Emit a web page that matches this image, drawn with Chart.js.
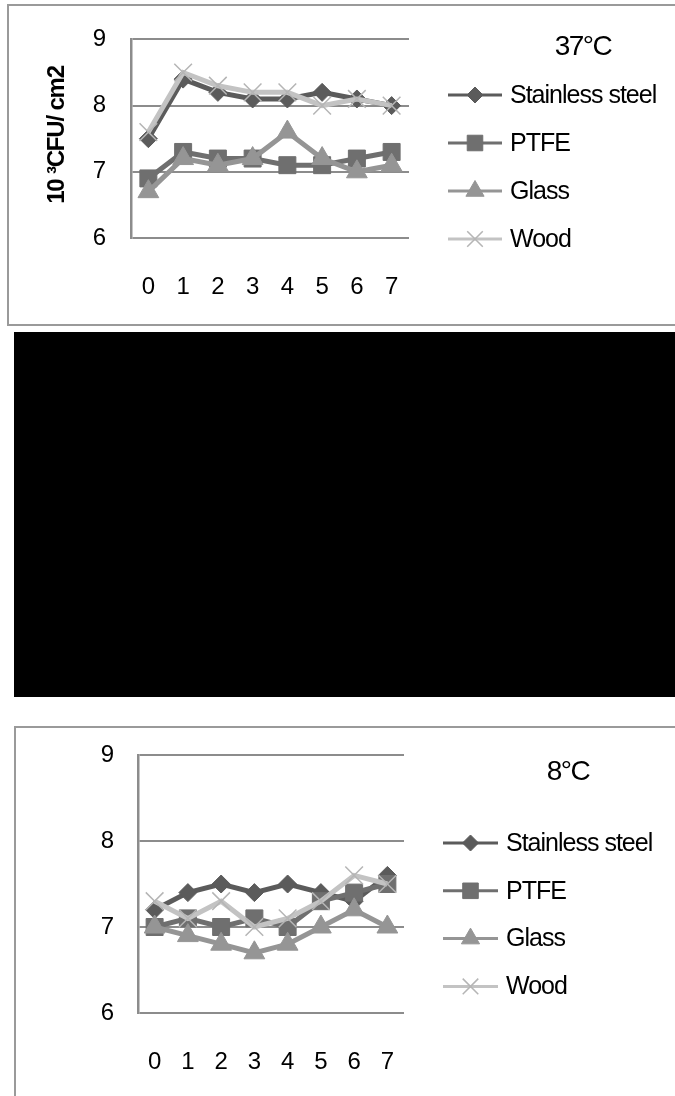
<!DOCTYPE html>
<html><head><meta charset="utf-8">
<script src="https://cdn.jsdelivr.net/npm/chart.js@4.4.0/dist/chart.umd.min.js"></script>
<style>
html,body{margin:0;padding:0;background:#fff;width:675px;height:1096px;overflow:hidden;}
body{position:relative;}
.box{position:absolute;border:2px solid #9a9a9a;box-sizing:border-box;}
#b1{left:7px;top:4px;width:720px;height:322px;}
#blk{position:absolute;left:14px;top:332px;width:661px;height:365px;background:#000;}
#b2{left:14px;top:726px;width:720px;height:420px;}
.cw{position:absolute;left:0;width:675px;}
#w1{top:0;height:330px;}
#w2{top:700px;height:396px;}
canvas{display:block;}
</style></head>
<body>
<div class="box" id="b1"></div>
<div id="blk"></div>
<div class="box" id="b2"></div>
<div class="cw" id="w1"><canvas id="c1" width="675" height="330"></canvas></div>
<div class="cw" id="w2"><canvas id="c2" width="675" height="396"></canvas></div>
<script>
// ---- data ----
const days = ['0','1','2','3','4','5','6','7'];
const seriesNames = ['Stainless steel','PTFE','Glass','Wood'];
const yTicks = [6,7,8,9];
// 37°C
const steel37 = [7.5,8.4,8.2,8.1,8.1,8.2,8.1,8.0];
const ptfe37  = [6.9,7.3,7.2,7.2,7.1,7.1,7.2,7.3];
const glass37 = [6.7,7.2,7.1,7.2,7.6,7.2,7.0,7.1];
const wood37  = [7.6,8.5,8.3,8.2,8.2,8.0,8.1,8.0];
// 8°C
const steel8 = [7.2,7.4,7.5,7.4,7.5,7.4,7.3,7.6];
const ptfe8  = [7.0,7.1,7.0,7.1,7.0,7.3,7.4,7.5];
const glass8 = [7.0,6.9,6.8,6.7,6.8,7.0,7.2,7.0];
const wood8  = [7.3,7.1,7.3,7.0,7.1,7.3,7.6,7.5];

const FONT = '"Liberation Sans", Arial, sans-serif';
const styles = [
  {line:'#5b5b5b', fill:'#5b5b5b', border:'#5b5b5b', ps:'rectRot', r:9, lr:8, bw:1, order:4},
  {line:'#6f6f6f', fill:'#6f6f6f', border:'#6f6f6f', ps:'rect', r:12, lr:11, bw:1, order:3},
  {line:'#959595', fill:'#959595', border:'#959595', ps:'triangle', r:12, lr:10.5, bw:1, order:2},
  {line:'#c3c3c3', fill:'#b5b5b5', border:'#b5b5b5', ps:'crossRot', r:12.5, lr:11, bw:1.5, order:1}
];

function makeDatasets(arrs){
  return arrs.map((d,i)=>({
    label: seriesNames[i],
    data: d,
    borderColor: styles[i].line,
    backgroundColor: styles[i].fill,
    borderWidth: 5,
    pointStyle: styles[i].ps,
    pointRadius: styles[i].r,
    pointBackgroundColor: styles[i].fill,
    pointBorderColor: styles[i].border,
    pointBorderWidth: styles[i].bw,
    legendRadius: styles[i].lr,
    tension: 0,
    order: styles[i].order
  }));
}

const sideLegend = {
  id:'sideLegend',
  afterDraw(chart, args, o){
    const ctx = chart.ctx;
    ctx.save();
    // y axis title
    ctx.save();
    ctx.translate(o.ytX, o.ytY);
    ctx.rotate(-Math.PI/2);
    ctx.fillStyle = '#000';
    ctx.font = 'bold 24px ' + FONT;
    ctx.letterSpacing = '-1.2px';
    ctx.textAlign = 'center'; ctx.textBaseline = 'middle';
    ctx.fillText(o.ytitle, 0, 0);
    ctx.restore();
    // chart title
    ctx.fillStyle = '#000';
    ctx.font = '28px ' + FONT;
    ctx.letterSpacing = '-1.5px';
    ctx.textAlign = 'center'; ctx.textBaseline = 'middle';
    ctx.fillText(o.title, o.titleX, o.titleY);
    chart.data.datasets.forEach((ds,i)=>{
      const y = o.y0 + i*o.dy;
      ctx.strokeStyle = ds.borderColor; ctx.lineWidth = 3;
      ctx.beginPath(); ctx.moveTo(o.x0,y); ctx.lineTo(o.x1,y); ctx.stroke();
      ctx.fillStyle = ds.pointBackgroundColor;
      ctx.strokeStyle = ds.pointBorderColor;
      ctx.lineWidth = ds.pointBorderWidth;
      Chart.helpers.drawPoint(ctx, {pointStyle: ds.pointStyle, radius: ds.legendRadius, borderWidth: ds.pointBorderWidth, rotation:0}, (o.x0+o.x1)/2, y);
      ctx.fillStyle = '#000';
      ctx.font = '25px ' + FONT;
      ctx.letterSpacing = '-1px';
      ctx.textAlign = 'left'; ctx.textBaseline = 'middle';
      ctx.fillText(ds.label, o.tx, y+1);
    });
    ctx.restore();
  }
};

function makeChart(id, arrs, cfg){
  return new Chart(document.getElementById(id), {
    type:'line',
    data:{labels: days, datasets: makeDatasets(arrs)},
    plugins:[sideLegend],
    options:{
      responsive:false, animation:false,
      layout:{padding:{left:0, top:cfg.top, right:cfg.right, bottom:cfg.bottom}},
      plugins:{legend:{display:false}, tooltip:{enabled:false},
        sideLegend: cfg.legend},
      scales:{
        x:{
          offset:true,
          grid:{display:false, drawTicks:false},
          border:{display:false},
          ticks:{color:'#000', font:{family:FONT, size:24}, padding:cfg.xpad, maxRotation:0, autoSkip:false},
          afterFit(s){ s.height = cfg.xh; }
        },
        y:{
          min:6, max:9,
          afterBuildTicks(s){ s.ticks = yTicks.map(v=>({value:v})); },
          grid:{color:'#8c8c8c', lineWidth:2, drawTicks:false},
          border:{display:true, color:'#8c8c8c', width:2.5},
          ticks:{color:'#000', font:{family:FONT, size:24}, padding:cfg.ypad},
          title:{display:false},
          afterFit(s){ s.width = cfg.yw; }
        }
      }
    }
  });
}

makeChart('c1', [steel37, ptfe37, glass37, wood37], {
  top:33, right:266, bottom:12, xh:80, xpad:35, yw:131, ypad:25,
  legend:{title:'37\u00b0C', titleX:583, titleY:47, x0:448, x1:502, tx:510, y0:95, dy:48,
    ytitle:'10 \u00b3CFU/ cm2', ytX:57, ytY:135}
});
makeChart('c2', [steel8, ptfe8, glass8, wood8], {
  top:55, right:271, bottom:3, xh:80, xpad:35, yw:138, ypad:24,
  legend:{title:'8\u00b0C', titleX:568, titleY:72, x0:443, x1:498, tx:506, y0:143, dy:47.8,
    ytitle:'10\u00b3 CFU/ cm2', ytX:63, ytY:883}
});
</script>
</body></html>
